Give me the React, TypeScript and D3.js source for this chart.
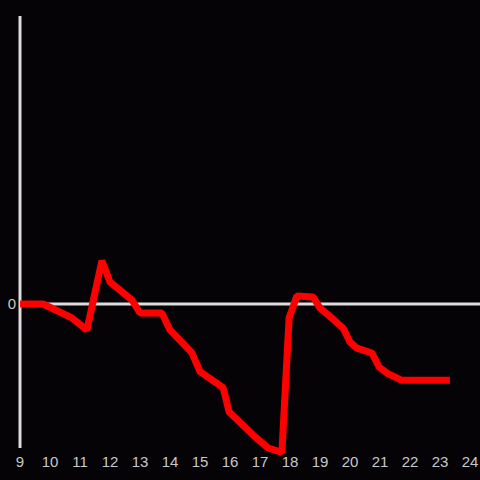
import React from "react";
import * as d3 from "d3";

const hours = [9.0, 9.77, 10.73, 11.23, 11.73, 12.0, 12.73, 13.0, 13.73, 14.0, 14.73, 15.0, 15.77, 15.97, 16.77, 17.27, 17.73, 17.97, 18.23, 18.77, 19.0, 19.27, 19.77, 20.0, 20.23, 20.73, 20.97, 21.23, 21.73, 23.33];
const values = [0, 0, -0.097, -0.18, 0.3, 0.153, 0.028, -0.0625, -0.0625, -0.18, -0.34, -0.47, -0.58, -0.75, -0.91, -1.0, -1.03, -0.097, 0.056, 0.049, -0.028, -0.076, -0.167, -0.264, -0.306, -0.34, -0.4375, -0.48, -0.53, -0.53];
const xTicks = [9, 10, 11, 12, 13, 14, 15, 16, 17, 18, 19, 20, 21, 22, 23, 24];
const yTicks = [0];

const W = 480;
const H = 480;

export default function App() {
  const x = d3.scaleLinear().domain([9, 24]).range([20, 470]);
  const y = d3.scaleLinear().domain([-1, 2]).range([448, 16]);
  const pts = hours.map((h, i) => [h, values[i]] as [number, number]);
  const line = d3
    .line<[number, number]>()
    .x((d) => x(d[0]))
    .y((d) => y(d[1]));
  return (
    <svg
      width={W}
      height={H}
      style={{ position: "fixed", left: 0, top: 0, display: "block" }}
    >
      <rect x={0} y={0} width={W} height={H} fill="#050306" />
      <line x1={x(9)} x2={W} y1={y(0)} y2={y(0)} stroke="#dcdcdc" strokeWidth={3} />
      <line x1={x(9)} x2={x(9)} y1={y(2)} y2={y(-1)} stroke="#dcdcdc" strokeWidth={3} />
      {yTicks.map((t) => (
        <text
          key={t}
          x={x(9) - 4}
          y={y(t)}
          dy="0.35em"
          textAnchor="end"
          fill="#c8c8c8"
          fontSize={15}
          fontFamily="Liberation Sans, Arial, sans-serif"
        >
          {t}
        </text>
      ))}
      {xTicks.map((t) => (
        <text
          key={t}
          x={x(t)}
          y={467}
          textAnchor="middle"
          fill="#c8c8c8"
          fontSize={15}
          fontFamily="Liberation Sans, Arial, sans-serif"
        >
          {t}
        </text>
      ))}
      <path
        d={line(pts) || ""}
        fill="none"
        stroke="#ff0000"
        strokeWidth={7}
        strokeLinejoin="bevel"
        strokeLinecap="butt"
      />
    </svg>
  );
}
